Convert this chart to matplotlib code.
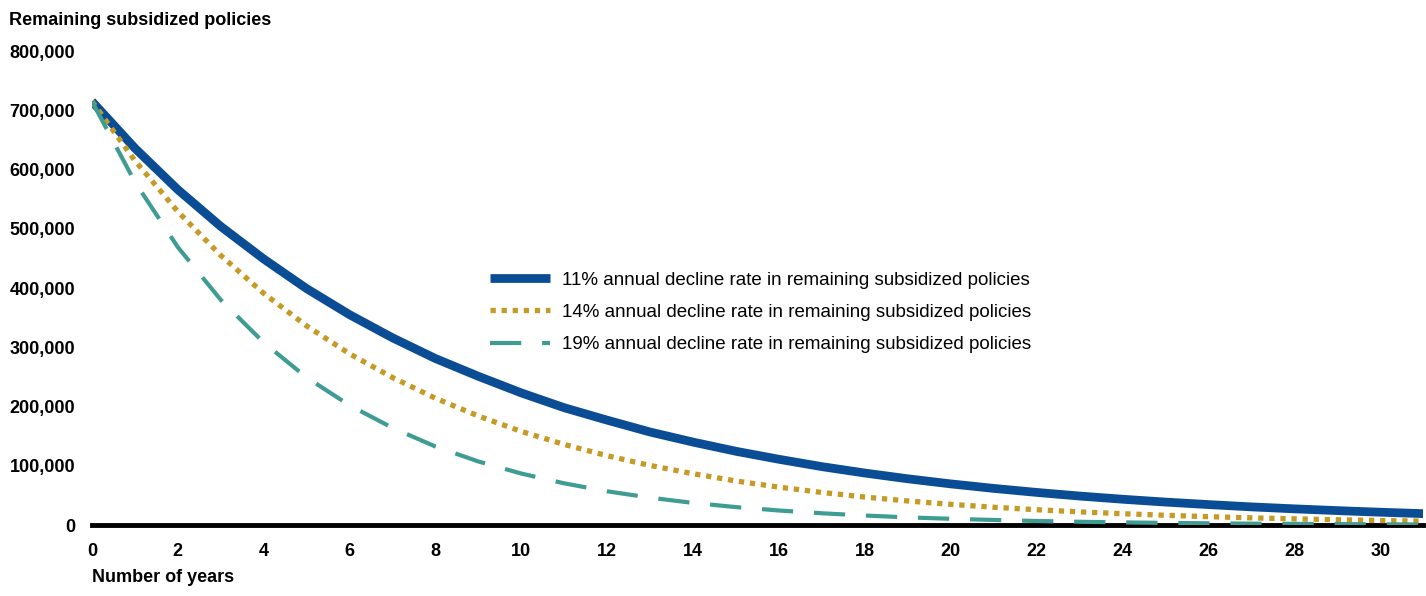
import matplotlib
matplotlib.use('Agg')
import matplotlib.pyplot as plt
from matplotlib.ticker import FuncFormatter

plt.rcParams['font.family'] = ['Liberation Sans', 'DejaVu Sans']

years = list(range(0, 32))

# remaining subsidized policies
decline_11 = [715000, 636000, 566000, 504000, 449000, 399000, 355000, 316000,
              281000, 251000, 223000, 198000, 177000, 157000, 140000, 124500,
              111000, 98600, 87800, 78100, 69500, 61900, 55100, 49000,
              43600, 38800, 34600, 30700, 27400, 24400, 21700, 19300]
decline_14 = [715000, 615000, 529000, 455000, 391000, 336000, 289000, 249000,
              214000, 184000, 158000, 136000, 117000, 100600, 86600, 74400,
              64000, 55000, 47300, 40700, 35000, 30100, 25900, 22300,
              19200, 16500, 14200, 12200, 10500, 9000, 7700, 6700]
decline_19 = [715000, 579000, 469000, 380000, 308000, 249000, 202000, 164000,
              132500, 107300, 86900, 70400, 57000, 46200, 37400, 30300,
              24600, 19900, 16100, 13000, 10600, 8600, 6900, 5600,
              4500, 3700, 3000, 2400, 2000, 1600, 1300, 1000]

labels = ['11% annual decline rate in remaining subsidized policies',
          '14% annual decline rate in remaining subsidized policies',
          '19% annual decline rate in remaining subsidized policies']

fig = plt.figure(figsize=(14.26, 5.96), dpi=100)
ax = fig.add_axes([0.0645, 0.119, 0.9335, 0.7954])

ax.plot(years, decline_11, color='#0a4d94', lw=6.3, solid_capstyle='butt', label=labels[0])
ax.plot(years, decline_14, color='#c59b26', lw=3.8, linestyle=(0, (1, 1.1)), label=labels[1])
ax.plot(years, decline_19, color='#3f9c92', lw=3.0, linestyle=(0, (7.5, 5)), label=labels[2])
ax.axhline(0, color='black', lw=3.5, clip_on=False, zorder=1)

ax.set_xlim(0, 31)
ax.set_ylim(0, 800000)
ax.set_xticks(range(0, 31, 2))
ax.set_yticks(range(0, 800001, 100000))
ax.yaxis.set_major_formatter(FuncFormatter(lambda v, p: f'{int(v):,}'))
ax.tick_params(axis='y', length=0, labelsize=13, pad=12)
ax.tick_params(axis='x', length=0, labelsize=13, pad=13)
for t in ax.get_xticklabels() + ax.get_yticklabels():
    t.set_fontweight('bold')
for s in ax.spines.values():
    s.set_visible(False)

fig.text(0.006, 0.965, 'Remaining subsidized policies', fontsize=13, fontweight='bold', va='center')
fig.text(0.0645, 0.017, 'Number of years', fontsize=13, fontweight='bold', va='bottom')

leg = ax.legend(loc='upper left', bbox_to_anchor=(0.286, 0.57), frameon=False, fontsize=13.5,
                handlelength=3.2, handletextpad=0.64, labelspacing=0.8)

fig.savefig('out.png', dpi=100)
